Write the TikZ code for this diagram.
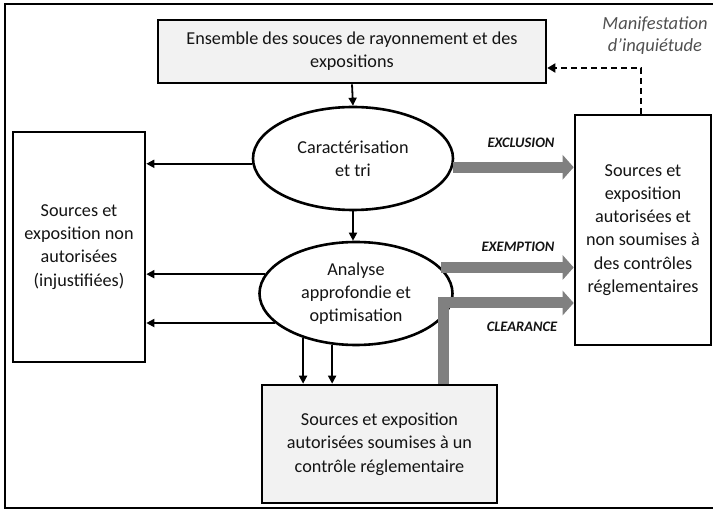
\documentclass[tikz,border=0pt]{standalone}
\usepackage{fontspec}
\setmainfont{Carlito}
\usetikzlibrary{arrows.meta,shapes.geometric}
\definecolor{boxfill}{RGB}{242,242,242}
\definecolor{arrowgray}{RGB}{128,128,128}
\definecolor{notegray}{RGB}{80,80,80}
\definecolor{txt}{RGB}{20,20,20}
\begin{document}
\begin{tikzpicture}[x=1pt,y=-1pt,
  box/.style={draw, line width=2.6pt, inner sep=0pt, align=center, text=txt,
    font=\fontsize{18.2}{23.3}\selectfont},
  ell/.style={draw, ellipse, line width=2.6pt, inner sep=0pt, align=center, text=txt,
    font=\fontsize{18.2}{23.3}\selectfont},
  thinarrow/.style={line width=1.8pt, -{Triangle[length=8pt,width=8pt]}},
  fatarrow/.style={draw=arrowgray, line width=11pt, line join=miter,
    -{Triangle[length=11pt,width=24pt]}, arrowgray},
  dashline/.style={line width=1.8pt, dash pattern=on 6pt off 4pt,
    -{Triangle[length=8pt,width=9pt]}},
  lab/.style={font=\fontsize{14.5}{16}\selectfont\bfseries\itshape, text=txt, inner sep=0pt},
  note/.style={font=\fontsize{18.5}{22}\selectfont\itshape, text=notegray, align=center, inner sep=0pt}
]
\useasboundingbox (0,0) rectangle (713,513);
\draw[line width=2.8pt] (5,4) rectangle (730,508);

% nodes
\node[box, fill=boxfill, minimum width=388pt, minimum height=63pt] (tb) at (352,51.5)
  {Ensemble des souces de rayonnement et des\\expositions};
\node[box, minimum width=132pt, minimum height=230pt] (lb) at (79,247)
  {Sources et\\exposition non\\autorisées\\(injustifiées)};
\node[box, minimum width=136pt, minimum height=230pt] (rb) at (643,230)
  {Sources et\\exposition\\autorisées et\\non soumises à\\des contrôles\\réglementaires};
\node[box, fill=boxfill, minimum width=235pt, minimum height=118pt] (bb) at (379.5,444)
  {Sources et exposition\\autorisées soumises à un\\contrôle réglementaire};
\node[ell, minimum width=200pt, minimum height=103pt] (e1) at (353,158.5)
  {Caractérisation\\et tri};
\node[ell, minimum width=193pt, minimum height=103pt] (e2) at (356,293.5)
  {Analyse\\approfondie et\\optimisation};

\node[note] (mi) at (655,36) {Manifestation\\d’inquiétude};

% fat gray arrows
\draw[fatarrow] (e1.-5) -- (e1.-5 -| rb.west);
\draw[fatarrow] (e2.17) -- (e2.17 -| rb.west);
\coordinate (clr) at (443.5,303);
\draw[fatarrow] (clr |- bb.north) -- (clr) -- (clr -| rb.west);

\node[lab] (lx) at (521,143) {EXCLUSION};
\node[lab] (le) at (518,247) {EXEMPTION};
\node[lab] (lc) at (522,327) {CLEARANCE};

% thin arrows
\draw[thinarrow] (tb.south) -- (e1.north);
\draw[thinarrow] (e1.south) -- (e1.south |- e2.north);
\draw[thinarrow] (e1.183) -- (e1.183 -| lb.east);
\draw[thinarrow] (e2.168) -- (e2.168 -| lb.east);
\draw[thinarrow] (e2.200) -- (e2.200 -| lb.east);
\draw[thinarrow] (e2.220.6) -- (e2.220.6 |- bb.north);
\draw[thinarrow] (e2.245.3) -- (e2.245.3 |- bb.north);

% dashed feedback
\coordinate (dc) at (641,68);
\draw[dashline] (dc |- rb.north) -- (dc) -- (dc -| tb.east);
\end{tikzpicture}
\end{document}
